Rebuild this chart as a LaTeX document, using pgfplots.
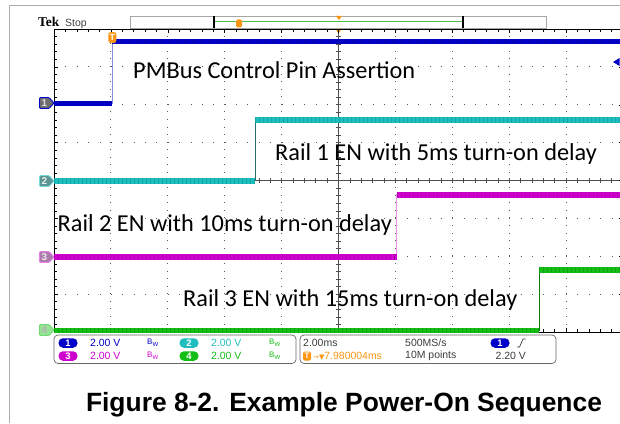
\documentclass[border=0pt]{standalone}
\usepackage{fontspec}
\usepackage{pgfplots}
\pgfplotsset{compat=1.18}
\setmainfont{Liberation Sans}
\newfontfamily\calib{Carlito}
\newfontfamily\tekserif{Liberation Serif}
\newfontfamily\sym{DejaVu Sans}

\definecolor{chA}{RGB}{0,0,200}
\definecolor{chAdark}{RGB}{0,0,110}
\definecolor{chAedge}{RGB}{140,140,225}
\definecolor{chB}{RGB}{30,190,190}
\definecolor{chBdark}{RGB}{0,110,110}
\definecolor{chBedge}{RGB}{40,110,110}
\definecolor{chC}{RGB}{205,0,205}
\definecolor{chCdark}{RGB}{120,0,120}
\definecolor{chCedge}{RGB}{230,150,230}
\definecolor{chD}{RGB}{20,190,20}
\definecolor{chDdark}{RGB}{0,110,0}
\definecolor{chDedge}{RGB}{20,120,20}
\definecolor{tekorange}{RGB}{250,150,20}
\definecolor{recgreen}{RGB}{80,185,80}
\definecolor{infotext}{RGB}{60,60,60}

\newcommand\info{\fontsize{10.5}{12}\selectfont}
\newcommand\bw{{\fontsize{8}{9}\selectfont B\raisebox{-1.8bp}{\fontsize{6}{6}\selectfont W}}}

\begin{document}
\begin{tikzpicture}[x=1bp,y=1bp]
\useasboundingbox (0,0) rectangle (620,423);
\fill[white] (0,0) rectangle (620,423);

% outer frame
\draw[gray!65, line width=0.9bp] (9,0) -- (9,418) -- (620,418);

% header
\node[anchor=base west, inner sep=0, font=\tekserif\bfseries\fontsize{13.5}{15}\selectfont] at (38,396.3) {Tek};
\node[anchor=base west, inner sep=0, font=\fontsize{10.5}{12}\selectfont, text=black!75] at (65,396.3) {Stop};
\draw[gray!70, line width=0.8bp] (130,395) rectangle (546,407);
\draw[recgreen, line width=0.9bp] (214,401.3) -- (463,401.3);
\draw[black, line width=1.2bp] (214,395) -- (214,407) (463,395) -- (463,407);
\fill[tekorange, rounded corners=1.5bp] (236,395.5) rectangle (242,403.5);
\fill[tekorange] (336,407) -- (342,407) -- (339,403) -- cycle;
\fill[tekorange] (335.5,394) -- (341.5,394) -- (338.5,389.5) -- cycle;

% centre crosshair with ticks
\draw[black!70, line width=0.7bp] (338.5,91) -- (338.5,394) (54,242.5) -- (623,242.5);
\foreach \k in {0,...,40} \draw[black!70, line width=0.6bp] (336.3,91+\k*7.575) -- (340.7,91+\k*7.575);
\foreach \k in {0,...,50} \draw[black!70, line width=0.6bp] (54+\k*11.38,240.3) -- (54+\k*11.38,244.7);

\begin{axis}[
  at={(54bp,91bp)}, anchor=south west,
  scale only axis, width=569bp, height=303bp,
  xmin=0, xmax=20, ymin=0, ymax=8,
  xtick distance=2, ytick distance=1,
  minor x tick num=4, minor y tick num=4,
  xticklabels={}, yticklabels={},
  tick align=inside, tick pos=both,
  major tick length=4bp, minor tick length=3bp,
  every tick/.style={black, line width=0.5bp},
  grid=major,
  major x grid style={black!65, line width=0.9bp, dash pattern=on 0.9bp off 6.675bp},
  major y grid style={black!65, line width=0.9bp, dash pattern=on 0.9bp off 10.48bp},
  axis line style={black, line width=0.9bp},
  unbounded coords=jump,
]
% channel 1: PMBus control pin
\addplot[chAedge, line width=1bp] coordinates {(0,6.03) (2.04,6.03) (2.04,7.675) (20,7.675)};
\addplot[chA, line width=5.5bp] coordinates {(0,6.03) (2.04,6.03) (2.04,nan) (2.04,7.675) (20,7.675)};
\addplot[chAdark, line width=5.5bp, opacity=0.3, dash pattern=on 0.8bp off 3.2bp] coordinates {(0,6.03) (2.04,6.03) (2.04,nan) (2.04,7.675) (20,7.675)};
% channel 2: rail 1 EN
\addplot[chBedge, line width=1bp] coordinates {(0,3.99) (7.07,3.99) (7.07,5.60) (20,5.60)};
\addplot[chB, line width=5.5bp] coordinates {(0,3.99) (7.07,3.99) (7.07,nan) (7.07,5.60) (20,5.60)};
\addplot[chBdark, line width=5.5bp, opacity=0.3, dash pattern=on 0.8bp off 3.2bp] coordinates {(0,3.99) (7.07,3.99) (7.07,nan) (7.07,5.60) (20,5.60)};
% channel 3: rail 2 EN
\addplot[chCedge, line width=1bp] coordinates {(0,1.98) (12.05,1.98) (12.05,3.62) (20,3.62)};
\addplot[chC, line width=5.5bp] coordinates {(0,1.98) (12.05,1.98) (12.05,nan) (12.05,3.62) (20,3.62)};
\addplot[chCdark, line width=5.5bp, opacity=0.3, dash pattern=on 0.8bp off 3.2bp] coordinates {(0,1.98) (12.05,1.98) (12.05,nan) (12.05,3.62) (20,3.62)};
% channel 4: rail 3 EN
\addplot[chDedge, line width=1bp] coordinates {(0,0.03) (17.05,0.03) (17.05,1.64) (20,1.64)};
\addplot[chD, line width=5.5bp] coordinates {(0,0.03) (17.05,0.03) (17.05,nan) (17.05,1.64) (20,1.64)};
\addplot[chDdark, line width=5.5bp, opacity=0.3, dash pattern=on 0.8bp off 3.2bp] coordinates {(0,0.03) (17.05,0.03) (17.05,nan) (17.05,1.64) (20,1.64)};
\end{axis}

% trace annotations
\begin{scope}[every node/.style={anchor=base west, inner sep=0, font=\calib\fontsize{24.4}{28}\selectfont}]
\node at (133,344.7) {PMBus Control Pin Assertion};
\node at (275,263) {Rail 1 EN with 5ms turn-on delay};
\node at (57.5,191.3) {Rail 2 EN with 10ms turn-on delay};
\node at (183,116.3) {Rail 3 EN with 15ms turn-on delay};
\end{scope}

% ground markers
\foreach \yy/\lab/\fc/\dc/\tc in {320/1/gray!85!black/chA/gray!25, 242/2/chB!35!gray/chB!60/gray!15, 166/3/chC!30!gray!80/chC!50/gray!15, 93/4/chD!45!white/chD!60/gray!60} {
  \filldraw[fill=\fc, draw=\dc, line width=0.9bp, rounded corners=1bp] (39.5,\yy-5.5) -- (49,\yy-5.5) -- (54,\yy) -- (49,\yy+5.5) -- (39.5,\yy+5.5) -- cycle;
  \node[inner sep=0, text=\tc, font=\bfseries\fontsize{10}{11}\selectfont] at (44.5,\yy) {\lab};
}

% trigger marker on channel 1 edge and trigger level arrow
\node[fill=tekorange, rounded corners=2bp, minimum width=8bp, minimum height=10.5bp, inner sep=0, text=white, font=\bfseries\fontsize{9}{10}\selectfont] at (112.3,385.5) {T};
\fill[chA] (613,361) -- (619.5,365) -- (619.5,357) -- cycle;

% info panels
\draw[black!60, line width=0.7bp, rounded corners=4bp] (54,59.5) rectangle (296,88);
\draw[black!60, line width=0.7bp, rounded corners=4bp] (300,59.5) rectangle (556,88);
\foreach \xx/\yy/\lab/\cc in {68/80/1/chA, 189/80/2/chB, 68/67/3/chC, 189/67/4/chD} {
  \node[fill=\cc, rounded corners=4.5bp, minimum width=19bp, minimum height=9.5bp, inner sep=0, text=white, font=\bfseries\fontsize{9.5}{10}\selectfont] at (\xx,\yy) {\lab};
}
\begin{scope}[every node/.style={anchor=west, inner sep=0, font=\info}]
\node[text=chA] at (90,80) {2.00 V};
\node[text=chB] at (211,80) {2.00 V};
\node[text=chC] at (90,67) {2.00 V};
\node[text=chD] at (211,67) {2.00 V};
\node[text=chA] at (147,80) {\bw};
\node[text=chD] at (269,80) {\bw};
\node[text=chC] at (147,67) {\bw};
\node[text=chD] at (269,67) {\bw};
\node[text=infotext] at (303,80) {2.00ms};
\node[text=infotext] at (405,80) {500MS/s};
\node[text=infotext] at (405,67) {10M points};
\node[text=infotext] at (495.5,67) {2.20 V};
\node[text=tekorange] at (313,67) {{\sym\fontsize{7}{8}\selectfont →▼}7.980004ms};
\end{scope}
\node[fill=chA, rounded corners=4.5bp, minimum width=19bp, minimum height=9.5bp, inner sep=0, text=white, font=\bfseries\fontsize{9.5}{10}\selectfont] at (500,80) {1};
\draw[infotext, line width=0.7bp] (517,76) -- (519.5,76) -- (523,84) -- (525.5,84);
\node[fill=tekorange, rounded corners=1.5bp, minimum width=8bp, minimum height=9bp, inner sep=0, text=white, font=\bfseries\fontsize{8}{9}\selectfont] at (307,67) {T};

% caption
\node[anchor=base, inner sep=0, font=\bfseries\fontsize{26.5}{30}\selectfont] at (344,11.3) {Figure 8-2. Example Power-On Sequence};
\end{tikzpicture}
\end{document}
